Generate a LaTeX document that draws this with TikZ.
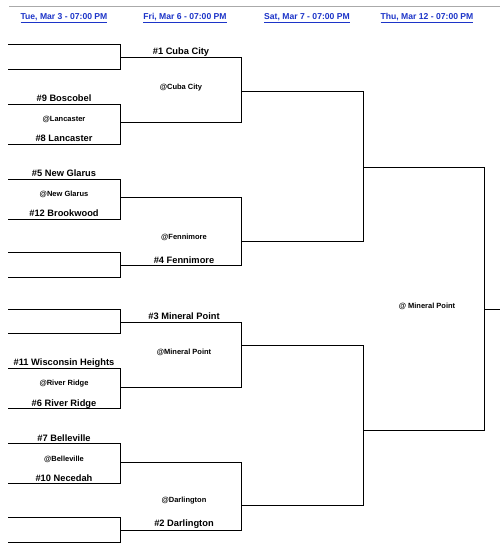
\documentclass[tikz,border=0pt]{standalone}
\usepackage{fontspec}
\setmainfont{Liberation Sans}
\usetikzlibrary{positioning, calc}
\definecolor{linkblue}{RGB}{28,52,200}
\definecolor{rulegray}{RGB}{170,170,170}

\begin{document}
\begin{tikzpicture}[
      x=1pt, y=-1pt,
      team/.style={font=\fontsize{9.3}{10}\selectfont\bfseries, inner sep=0pt, yshift=-1.5pt},
      venue/.style={font=\fontsize{7.5}{8}\selectfont\bfseries, inner sep=0pt, yshift=-1pt},
      date/.style={font=\fontsize{8.6}{10}\selectfont\bfseries, text=linkblue, inner sep=0pt},
      bracket/.style={draw=black, line width=0.9pt}
    ]
    \useasboundingbox (0,0) rectangle (500,549);

    % header
    \coordinate (hl) at (9,6);
    \coordinate (hr) at (500,6);
    \draw[rulegray, line width=1pt] (hl) -- (hr);
    \node[date] (d1) at (64,18) {\underline{Tue, Mar 3 - 07:00 PM}};
    \node[date] (d2) at (185,18) {\underline{Fri, Mar 6 - 07:00 PM}};
    \node[date] (d3) at (307,18) {\underline{Sat, Mar 7 - 07:00 PM}};
    \node[date] (d4) at (427,18) {\underline{Thu, Mar 12 - 07:00 PM}};

    % first round
    \coordinate (a1) at (8,44);   \coordinate (a2) at (120,44);
    \coordinate (a3) at (8,69);   \coordinate (a4) at (120,69);
    \coordinate (b1) at (8,104);  \coordinate (b2) at (120,104);
    \coordinate (b3) at (8,144);  \coordinate (b4) at (120,144);
    \coordinate (c1) at (8,179);  \coordinate (c2) at (120,179);
    \coordinate (c3) at (8,219);  \coordinate (c4) at (120,219);
    \coordinate (e1) at (8,252);  \coordinate (e2) at (120,252);
    \coordinate (e3) at (8,277);  \coordinate (e4) at (120,277);
    \coordinate (f1) at (8,309);  \coordinate (f2) at (120,309);
    \coordinate (f3) at (8,333);  \coordinate (f4) at (120,333);
    \coordinate (g1) at (8,368);  \coordinate (g2) at (120,368);
    \coordinate (g3) at (8,408);  \coordinate (g4) at (120,408);
    \coordinate (h1) at (8,443);  \coordinate (h2) at (120,443);
    \coordinate (h3) at (8,483);  \coordinate (h4) at (120,483);
    \coordinate (k1) at (8,517);  \coordinate (k2) at (120,517);
    \coordinate (k3) at (8,542);  \coordinate (k4) at (120,542);

    \draw[bracket] (a1) -- (a2) -- (a4) -- (a3);
    \draw[bracket] (b1) -- (b2) -- (b4) -- (b3);
    \draw[bracket] (c1) -- (c2) -- (c4) -- (c3);
    \draw[bracket] (e1) -- (e2) -- (e4) -- (e3);
    \draw[bracket] (f1) -- (f2) -- (f4) -- (f3);
    \draw[bracket] (g1) -- (g2) -- (g4) -- (g3);
    \draw[bracket] (h1) -- (h2) -- (h4) -- (h3);
    \draw[bracket] (k1) -- (k2) -- (k4) -- (k3);

    \node[team]  (bosc)  at (64,97)  {\#9 Boscobel};
    \node[venue] (atlan) at (64,118) {@Lancaster};
    \node[team]  (lanc)  at (64,137) {\#8 Lancaster};
    \node[team]  (glar)  at (64,172) {\#5 New Glarus};
    \node[venue] (atgla) at (64,193) {@New Glarus};
    \node[team]  (brook) at (64,212) {\#12 Brookwood};
    \node[team]  (wisc)  at (64,362) {\#11 Wisconsin Heights};
    \node[venue] (atriv) at (64,383) {@River Ridge};
    \node[team]  (river) at (64,403) {\#6 River Ridge};
    \node[team]  (belle) at (64,437) {\#7 Belleville};
    \node[venue] (atbel) at (64,458) {@Belleville};
    \node[team]  (neced) at (64,477) {\#10 Necedah};

    % quarterfinals
    \coordinate (qa1) at (120,57);  \coordinate (qa2) at (241,57);
    \coordinate (qa3) at (120,122); \coordinate (qa4) at (241,122);
    \coordinate (qb1) at (120,197); \coordinate (qb2) at (241,197);
    \coordinate (qb3) at (120,265); \coordinate (qb4) at (241,265);
    \coordinate (qc1) at (120,322); \coordinate (qc2) at (241,322);
    \coordinate (qc3) at (120,387); \coordinate (qc4) at (241,387);
    \coordinate (qd1) at (120,462); \coordinate (qd2) at (241,462);
    \coordinate (qd3) at (120,530); \coordinate (qd4) at (241,530);

    \draw[bracket] (qa1) -- (qa2) -- (qa4) -- (qa3);
    \draw[bracket] (qb1) -- (qb2) -- (qb4) -- (qb3);
    \draw[bracket] (qc1) -- (qc2) -- (qc4) -- (qc3);
    \draw[bracket] (qd1) -- (qd2) -- (qd4) -- (qd3);

    \node[team]  (cuba)  at (181,51)  {\#1 Cuba City};
    \node[venue] (atcub) at (181,87)  {@Cuba City};
    \node[venue] (atfen) at (184,236) {@Fennimore};
    \node[team]  (fenn)  at (184,259) {\#4 Fennimore};
    \node[team]  (mine)  at (184,315) {\#3 Mineral Point};
    \node[venue] (atmin) at (184,351) {@Mineral Point};
    \node[venue] (atdar) at (184,500) {@Darlington};
    \node[team]  (darl)  at (184,523) {\#2 Darlington};

    % semifinals
    \coordinate (sa1) at (241,91);  \coordinate (sa2) at (363,91);
    \coordinate (sa3) at (241,241); \coordinate (sa4) at (363,241);
    \coordinate (sb1) at (241,345); \coordinate (sb2) at (363,345);
    \coordinate (sb3) at (241,505); \coordinate (sb4) at (363,505);

    \draw[bracket] (sa1) -- (sa2) -- (sa4) -- (sa3);
    \draw[bracket] (sb1) -- (sb2) -- (sb4) -- (sb3);

    % final
    \coordinate (fa1) at (363,167); \coordinate (fa2) at (484,167);
    \coordinate (fa3) at (363,430); \coordinate (fa4) at (484,430);
    \coordinate (win1) at (484,309); \coordinate (win2) at (500,309);

    \draw[bracket] (fa1) -- (fa2) -- (fa4) -- (fa3);
    \draw[bracket] (win1) -- (win2);

    \node[venue] (atfin) at (427,305) {@ Mineral Point};
\end{tikzpicture}
\end{document}
